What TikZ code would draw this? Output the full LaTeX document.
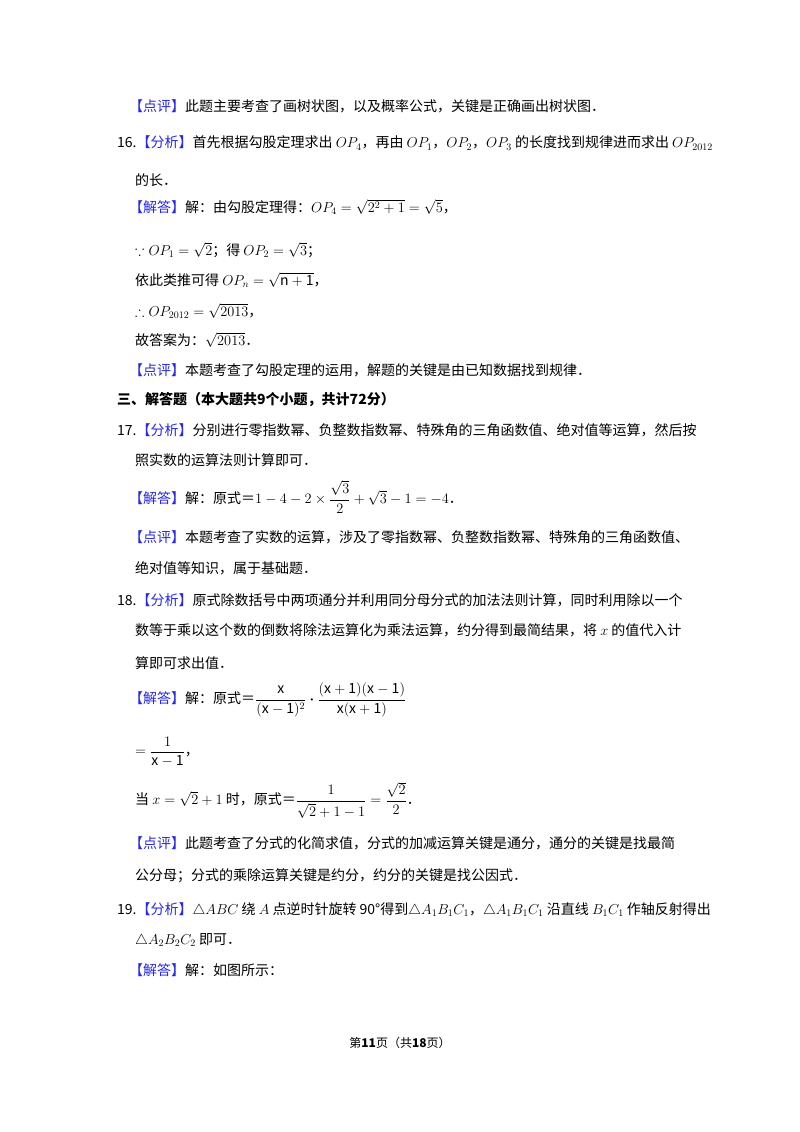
\documentclass[tikz,border=0pt]{standalone}
\usepackage{fontspec}
\setmainfont{Noto Sans CJK SC}
\usepackage{amsmath,amssymb}
\definecolor{lbl}{RGB}{40,40,230}
\newcommand{\lb}[1]{\textcolor{lbl}{【#1】}}
\begin{document}
\begin{tikzpicture}[x=1pt,y=-1pt,every node/.style={anchor=west,inner sep=0pt,font=\fontsize{14}{16}\selectfont}]
\useasboundingbox[fill=white] (0,0) rectangle (800,1132);
\node (a1) at (129,106) {\lb{点评}此题主要考查了画树状图，以及概率公式，关键是正确画出树状图．};
\node (a2) at (117,143) {16.\lb{分析}首先根据勾股定理求出 $OP_4$，再由 $OP_1$，$OP_2$，$OP_3$ 的长度找到规律进而求出 $OP_{2012}$};
\node (a3) at (135,180) {的长．};
\node (a4) at (129,207) {\lb{解答}解：由勾股定理得：$OP_4=\sqrt{2^2+1}=\sqrt{5}$，};
\node (a5) at (135,250) {$\because OP_1=\sqrt{2}$；得 $OP_2=\sqrt{3}$；};
\node (a6) at (135,280) {依此类推可得 $OP_n=\sqrt{\mathrm{n+1}}$，};
\node (a7) at (135,311) {$\therefore OP_{2012}=\sqrt{2013}$，};
\node (a8) at (135,340) {故答案为：$\sqrt{2013}$．};
\node (a9) at (129,370) {\lb{点评}本题考查了勾股定理的运用，解题的关键是由已知数据找到规律．};
\node (b0) at (117,400) {\bfseries 三、解答题（本大题共9个小题，共计72分）};
\node (b1) at (117,430) {17.\lb{分析}分别进行零指数幂、负整数指数幂、特殊角的三角函数值、绝对值等运算，然后按};
\node (b2) at (135,460) {照实数的运算法则计算即可．};
\node (b3) at (129,497) {\lb{解答}解：原式＝$1-4-2\times\dfrac{\sqrt{3}}{2}+\sqrt{3}-1=-4$．};
\node (b4) at (129,537) {\lb{点评}本题考查了实数的运算，涉及了零指数幂、负整数指数幂、特殊角的三角函数值、};
\node (b5) at (135,568) {绝对值等知识，属于基础题．};
\node (c1) at (117,600) {18.\lb{分析}原式除数括号中两项通分并利用同分母分式的加法法则计算，同时利用除以一个};
\node (c2) at (135,630) {数等于乘以这个数的倒数将除法运算化为乘法运算，约分得到最简结果，将 $x$ 的值代入计};
\node (c3) at (135,663) {算即可求出值．};
\node (c4) at (129,700) {\lb{解答}解：原式＝$\dfrac{\mathrm{x}}{(\mathrm{x-1})^2}\boldsymbol{\cdot}\dfrac{(\mathrm{x+1})(\mathrm{x-1})}{\mathrm{x}(\mathrm{x+1})}$};
\node (c5) at (135,752) {$=\dfrac{1}{\mathrm{x-1}}$，};
\node (c6) at (135,800) {当 $x=\sqrt{2}+1$ 时，原式＝$\dfrac{1}{\sqrt{2}+1-1}=\dfrac{\sqrt{2}}{2}$．};
\node (c7) at (129,843) {\lb{点评}此题考查了分式的化简求值，分式的加减运算关键是通分，通分的关键是找最简};
\node (c8) at (135,876) {公分母；分式的乘除运算关键是约分，约分的关键是找公因式．};
\node (d1) at (117,910) {19.\lb{分析}$\triangle ABC$ 绕 $A$ 点逆时针旋转 90°得到$\triangle A_1B_1C_1$，$\triangle A_1B_1C_1$ 沿直线 $B_1C_1$ 作轴反射得出};
\node (d2) at (135,940) {$\triangle A_2B_2C_2$ 即可．};
\node (d3) at (129,970) {\lb{解答}解：如图所示：};
\node[anchor=center,font=\fontsize{12}{14}\selectfont] (p) at (400,1043) {第\textbf{11}页（共\textbf{18}页）};
\end{tikzpicture}
\end{document}
